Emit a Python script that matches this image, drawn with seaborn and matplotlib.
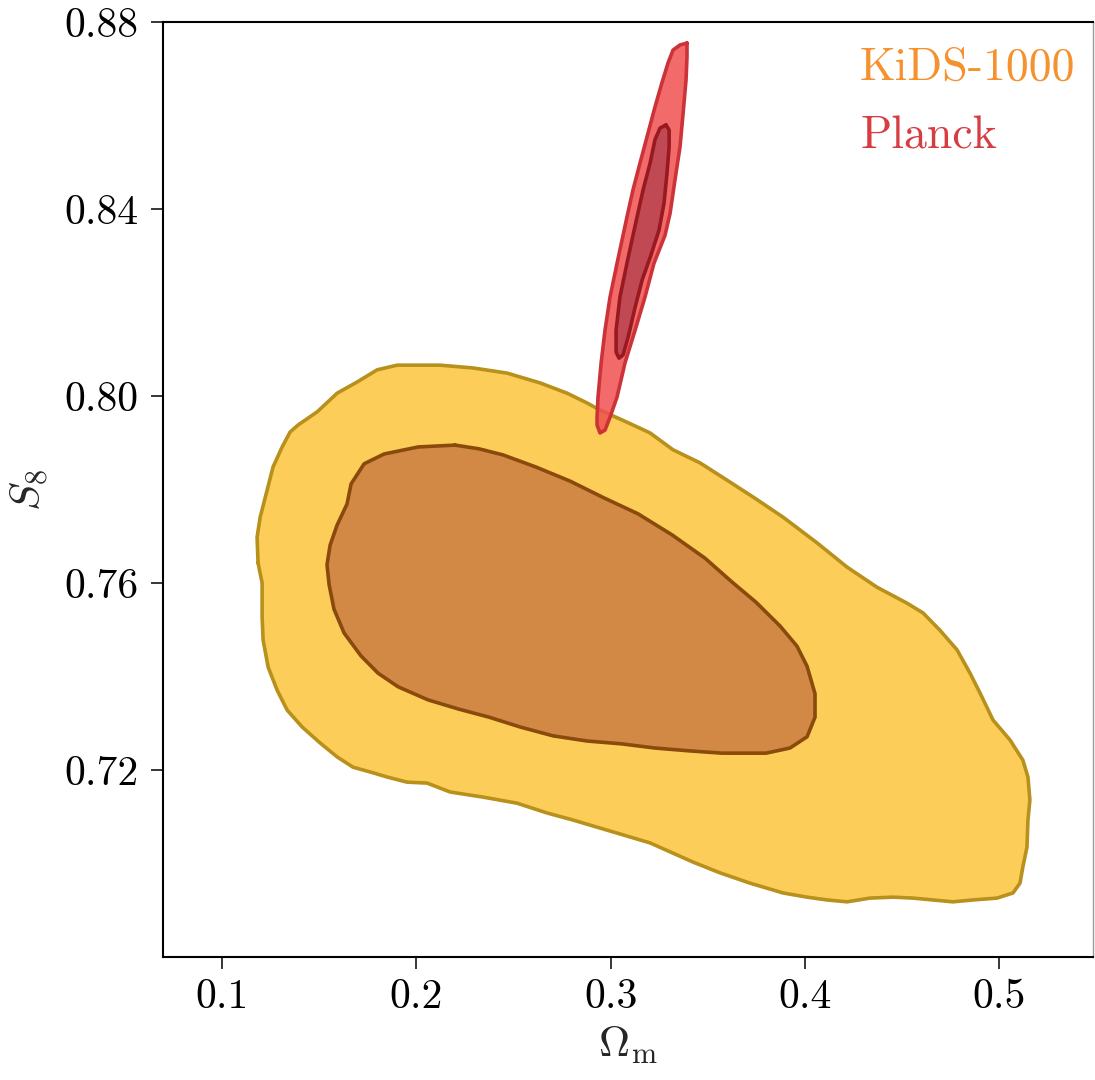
import matplotlib
matplotlib.use("Agg")
import matplotlib.pyplot as plt
import seaborn as sns
import pandas as pd

# KiDS-1000 posterior contours in the (Omega_m, S8) plane
kids_68_om = [0.2199, 0.2323, 0.2446, 0.2616, 0.2791, 0.2966, 0.3141, 0.3316, 0.3486,
              0.3625, 0.3748, 0.3872, 0.3959, 0.4011, 0.4052, 0.4052, 0.4011, 0.3923,
              0.3800, 0.3573, 0.3403, 0.3228, 0.3054, 0.2879, 0.2704, 0.2534, 0.2374,
              0.2220, 0.2060, 0.1906, 0.1803, 0.1715, 0.1628, 0.1576, 0.1551, 0.1540,
              0.1556, 0.1592, 0.1643, 0.1664, 0.1731, 0.1834, 0.2009]
kids_68_s8 = [0.7895, 0.7887, 0.7874, 0.7848, 0.7818, 0.7782, 0.7748, 0.7703, 0.7653,
              0.7602, 0.7559, 0.7508, 0.7465, 0.7422, 0.7363, 0.7313, 0.7271, 0.7247,
              0.7236, 0.7236, 0.7241, 0.7247, 0.7256, 0.7262, 0.7273, 0.7292, 0.7313,
              0.7330, 0.7350, 0.7378, 0.7407, 0.7444, 0.7493, 0.7544, 0.7596, 0.7639,
              0.7681, 0.7724, 0.7769, 0.7812, 0.7855, 0.7876, 0.7891]

kids_95_om = [0.1185, 0.1180, 0.1196, 0.1232, 0.1262, 0.1309, 0.1350, 0.1391, 0.1489,
              0.1592, 0.1695, 0.1798, 0.1901, 0.2122, 0.2292, 0.2467, 0.2637, 0.2776,
              0.2879, 0.2945, 0.3084, 0.3203, 0.3321, 0.3460, 0.3599, 0.3733, 0.3887,
              0.4062, 0.4217, 0.4371, 0.4525, 0.4608, 0.4695, 0.4783, 0.4850, 0.4901,
              0.4968, 0.5056, 0.5122, 0.5148, 0.5158, 0.5148, 0.5143, 0.5122, 0.5107,
              0.5071, 0.4989, 0.4865, 0.4762, 0.4659, 0.4556, 0.4453, 0.4335, 0.4217,
              0.4114, 0.4011, 0.3887, 0.3717, 0.3563, 0.3424, 0.3203, 0.3033, 0.2806,
              0.2673, 0.2518, 0.2343, 0.2173, 0.2055, 0.1952, 0.1849, 0.1777, 0.1674,
              0.1592, 0.1504, 0.1412, 0.1335, 0.1283, 0.1237, 0.1211, 0.1206, 0.1206]
kids_95_s8 = [0.7643, 0.7698, 0.7741, 0.7799, 0.7848, 0.7891, 0.7923, 0.7938, 0.7966,
              0.8006, 0.8030, 0.8056, 0.8066, 0.8066, 0.8060, 0.8049, 0.8028, 0.8006,
              0.7985, 0.7970, 0.7944, 0.7921, 0.7885, 0.7857, 0.7820, 0.7784, 0.7741,
              0.7686, 0.7634, 0.7591, 0.7557, 0.7536, 0.7499, 0.7457, 0.7407, 0.7365,
              0.7307, 0.7264, 0.7221, 0.7185, 0.7136, 0.7093, 0.7035, 0.6993, 0.6958,
              0.6937, 0.6926, 0.6922, 0.6918, 0.6922, 0.6926, 0.6928, 0.6926, 0.6918,
              0.6922, 0.6928, 0.6937, 0.6958, 0.6980, 0.7003, 0.7044, 0.7065, 0.7093,
              0.7108, 0.7129, 0.7142, 0.7153, 0.7172, 0.7174, 0.7185, 0.7194, 0.7206,
              0.7228, 0.7258, 0.7292, 0.7328, 0.7371, 0.7420, 0.7478, 0.7527, 0.7600]

# Planck contours
planck_95_om = [0.3393, 0.3393, 0.3388, 0.3373, 0.3357, 0.3331, 0.3306, 0.3280, 0.3223,
                0.3177, 0.3126, 0.3074, 0.3033, 0.2997, 0.2971, 0.2945, 0.2930, 0.2930,
                0.2935, 0.2951, 0.2971, 0.2997, 0.3033, 0.3064, 0.3084, 0.3115, 0.3151,
                0.3187, 0.3228, 0.3264, 0.3295, 0.3321, 0.3357]
planck_95_s8 = [0.8755, 0.8725, 0.8676, 0.8605, 0.8533, 0.8462, 0.8391, 0.8344, 0.8284,
                0.8212, 0.8141, 0.8071, 0.7998, 0.7955, 0.7927, 0.7921, 0.7938, 0.7955,
                0.7998, 0.8071, 0.8141, 0.8212, 0.8284, 0.8344, 0.8383, 0.8441, 0.8498,
                0.8554, 0.8618, 0.8670, 0.8712, 0.8740, 0.8751]

planck_68_om = [0.3285, 0.3301, 0.3301, 0.3290, 0.3275, 0.3249, 0.3208, 0.3162, 0.3126,
                0.3090, 0.3064, 0.3043, 0.3028, 0.3028, 0.3048, 0.3084, 0.3110, 0.3136,
                0.3167, 0.3203, 0.3228, 0.3254]
planck_68_s8 = [0.8580, 0.8569, 0.8533, 0.8477, 0.8413, 0.8355, 0.8302, 0.8248, 0.8190,
                0.8126, 0.8088, 0.8081, 0.8094, 0.8141, 0.8212, 0.8284, 0.8334, 0.8383,
                0.8441, 0.8498, 0.8548, 0.8573]

x_ticks = [0.1, 0.2, 0.3, 0.4, 0.5]
y_ticks = [0.72, 0.76, 0.80, 0.84, 0.88]
x_tick_labels = ["0.1", "0.2", "0.3", "0.4", "0.5"]
y_tick_labels = ["0.72", "0.76", "0.80", "0.84", "0.88"]
legend_labels = ["KiDS-1000", "Planck"]

sns.set_theme(style="ticks")
plt.rcParams["font.family"] = ["cmr10", "DejaVu Serif"]
plt.rcParams["mathtext.fontset"] = "cm"
plt.rcParams["axes.unicode_minus"] = False
plt.rcParams["axes.formatter.use_mathtext"] = True

fig = plt.figure(figsize=(10.95, 10.8), dpi=100)
ax = fig.add_axes([0.1489, 0.1139, 0.8493, 0.8657])


def closed(xs, ys):
    return pd.DataFrame({"om": list(xs) + [xs[0]], "s8": list(ys) + [ys[0]]})


def contour(xs, ys, face, edge, alpha=1.0, lw=2.6, z=1):
    df = closed(xs, ys)
    ax.fill(df["om"], df["s8"], facecolor=face, edgecolor="none", alpha=alpha, zorder=z)
    sns.lineplot(data=df, x="om", y="s8", sort=False, estimator=None, ax=ax,
                 color=edge, lw=lw, zorder=z + 0.5, solid_joinstyle="round")


contour(kids_95_om, kids_95_s8, "#fdcd5a", "#b8901c", z=1)
contour(kids_68_om, kids_68_s8, "#d38946", "#8a4a0c", z=2)
contour(planck_95_om, planck_95_s8, "#f05050", "#cc3338", alpha=0.85, z=3)
contour(planck_68_om, planck_68_s8, "#b84450", "#981a20", alpha=0.85, z=4)

ax.text(0.4284, 0.8676, legend_labels[0], color="#f5922f", fontsize=33, va="baseline", zorder=6)
ax.text(0.4284, 0.8530, legend_labels[1], color="#d73c41", fontsize=33, va="baseline", zorder=6)

ax.set_xlim(0.0696, 0.5483)
ax.set_ylim(0.68, 0.88)
ax.set_xticks(x_ticks)
ax.set_xticklabels(x_tick_labels)
ax.set_yticks(y_ticks)
ax.set_yticklabels(y_tick_labels)
ax.tick_params(axis="both", direction="out", length=8.5, width=1.1, labelsize=30,
               colors="black")
ax.tick_params(axis="x", pad=7)
ax.tick_params(axis="y", pad=9)
for side in ["left", "bottom", "top"]:
    ax.spines[side].set_linewidth(1.5)
    ax.spines[side].set_color("black")
ax.spines["right"].set_linewidth(1.0)
ax.spines["right"].set_color("#999999")

ax.set_xlabel(r"$\Omega_{\rm m}$", fontsize=31, labelpad=6)
ax.set_ylabel(r"$S_8$", fontsize=31, labelpad=10)

fig.savefig("out.png", dpi=100, facecolor="white")
